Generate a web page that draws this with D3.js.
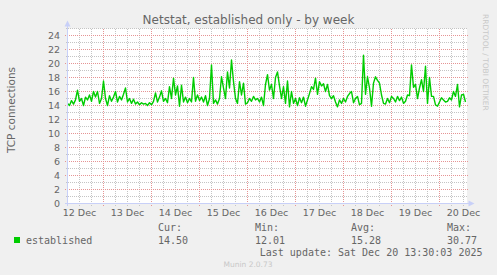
<!DOCTYPE html>
<html><head><meta charset="utf-8">
<script src="https://cdn.jsdelivr.net/npm/d3@7"></script>
<style>body{margin:0;background:#F0F0F0;overflow:hidden}</style>
</head><body>
<script>
// ---- data ----
const chartTitle = "Netstat, established only - by week";
const yAxisLabel = "TCP connections";
const seriesName = "established";
const startTime = new Date(2025, 11, 12, 6, 0);
const endTime = new Date(2025, 11, 20, 14, 0);
const sampleHours = 1; // one sample per hour
const established = [
14.3,14.0,14.7,14.2,14.8,16.2,14.6,15.0,14.0,15.2,
14.8,15.5,14.6,16.0,15.2,16.0,14.3,15.0,17.5,15.0,
14.0,15.4,14.6,15.2,16.0,14.5,15.3,14.8,15.6,16.5,
14.5,15.0,14.3,14.9,14.2,14.5,14.1,14.4,14.2,14.3,
14.0,14.4,14.1,14.6,15.8,14.5,15.2,16.1,14.6,15.0,
14.4,16.7,15.0,17.9,15.5,16.8,13.9,16.9,14.5,15.2,
14.4,15.0,14.5,18.0,14.6,15.5,14.7,15.2,14.5,15.4,
14.0,15.0,19.8,14.3,14.8,14.2,15.0,18.1,16.5,15.0,
18.8,16.5,20.5,17.4,15.0,14.3,17.4,15.5,17.2,14.2,
14.4,15.0,14.6,15.3,14.8,15.0,14.5,15.2,14.0,17.0,
18.4,16.2,17.0,15.0,18.0,18.8,16.8,15.0,16.7,14.3,
17.5,13.8,16.0,14.3,15.0,14.0,15.1,14.4,15.2,13.9,
14.8,15.7,16.7,16.3,17.9,15.6,17.4,16.8,17.1,16.0,
17.0,15.4,15.0,15.4,14.5,13.8,14.8,14.3,15.0,14.5,
15.3,15.7,16.0,14.4,15.0,15.3,14.1,14.3,21.2,15.6,
18.1,16.5,13.9,17.2,18.1,17.6,17.2,15.5,14.3,14.2,
15.0,14.4,15.3,15.0,14.5,15.3,14.7,15.2,14.3,14.6,
15.5,15.4,19.8,16.6,17.0,15.0,16.5,17.7,16.0,19.6,
14.3,18.0,15.3,15.3,14.1,13.9,14.5,15.1,14.8,14.5,
14.6,15.1,14.8,16.0,15.3,17.0,13.8,15.5,15.6,14.5
];
const yMajorTicks = [0,2,4,6,8,10,12,14,16,18,20,22,24];
const yMinorTicks = [1,3,5,7,9,11,13,15,17,19,21,23,25];
const dayLabels = ["12 Dec","13 Dec","14 Dec","15 Dec","16 Dec","17 Dec","18 Dec","19 Dec","20 Dec"];
const statLabels = ["Cur:","Min:","Avg:","Max:"];
const statValues = ["14.50","12.01","15.28","30.77"];
const lastUpdate = "Last update: Sat Dec 20 13:30:03 2025";
const footer = "Munin 2.0.73";
const watermark = "RRDTOOL / TOBI OETIKER";

// ---- layout ----
const W = 497, H = 275;
const L = 67.5, R = 467.5, T = 28.5, B = 203.5;
const fontColor = "#666666", gridColor = "#C4C4C4", mgridColor = "#E59494", axisColor = "#C8D0F8";
const lineColor = "#00CC00";

const svg = d3.select("body").append("svg").attr("width", W).attr("height", H)
  .style("font-family", "'DejaVu Sans', sans-serif");
svg.append("rect").attr("width", W).attr("height", H).attr("fill", "#F0F0F0");

const x = d3.scaleTime().domain([startTime, endTime]).range([L, R]);
const y = d3.scaleLinear().domain([0, 25]).range([B, T]);

svg.append("rect").attr("x", L).attr("y", T).attr("width", R - L - 0.5).attr("height", B - T).attr("fill", "#FFFFFF");

const grid = svg.append("g").attr("shape-rendering", "crispEdges");
grid.selectAll(".hmin").data(yMinorTicks).join("line")
  .attr("x1", L - 2).attr("x2", R).attr("y1", d => y(d)).attr("y2", d => y(d))
  .attr("stroke", gridColor).attr("stroke-dasharray", "1,1");
const sixHours = d3.timeHour.every(6).range(startTime, endTime).filter(d => d.getHours() !== 0);
grid.selectAll(".vmin").data(sixHours).join("line")
  .attr("x1", d => x(d)).attr("x2", d => x(d)).attr("y1", T).attr("y2", B + 2)
  .attr("stroke", gridColor).attr("stroke-dasharray", "1,1");
grid.selectAll(".hmaj").data(yMajorTicks).join("line")
  .attr("x1", L - 3).attr("x2", R).attr("y1", d => y(d)).attr("y2", d => y(d))
  .attr("stroke", mgridColor).attr("stroke-dasharray", "1,1");
const days = d3.timeDay.range(d3.timeDay.ceil(startTime), endTime);
grid.selectAll(".vmaj").data(days).join("line")
  .attr("x1", d => x(d)).attr("x2", d => x(d)).attr("y1", T).attr("y2", B + 3)
  .attr("stroke", mgridColor).attr("stroke-dasharray", "1,1");

// data line
const pts = established.map((v, i) => [new Date(+startTime + i * sampleHours * 3600e3), v]);
const line = d3.line().x(d => x(d[0])).y(d => y(d[1]));
svg.append("path").datum(pts).attr("d", line).attr("fill", "none")
  .attr("stroke", lineColor).attr("stroke-width", 1.4).attr("stroke-linejoin", "round");

// axes
const ax = svg.append("g");
ax.append("line").attr("x1", L).attr("x2", L).attr("y1", B + 2).attr("y2", T - 4)
  .attr("stroke", axisColor).attr("shape-rendering", "crispEdges");
ax.append("path").attr("d", `M${L - 3},${T - 2} L${L},${T - 8} L${L + 3},${T - 2} Z`).attr("fill", axisColor);
ax.append("line").attr("x1", L - 3).attr("x2", R + 3).attr("y1", B).attr("y2", B)
  .attr("stroke", axisColor).attr("shape-rendering", "crispEdges");
ax.append("path").attr("d", `M${R + 1},${B - 3} L${R + 7},${B} L${R + 1},${B + 3} Z`).attr("fill", axisColor);

// y tick labels
svg.selectAll(".ytl").data(yMajorTicks).join("text")
  .attr("x", 60).attr("y", d => y(d)).attr("dy", "0.35em").attr("text-anchor", "end")
  .attr("font-size", 9.5).attr("fill", fontColor).text(d => d);
const noons = dayLabels.map((lab, i) => new Date(2025, 11, 12 + i, 12, 0));
svg.selectAll(".xtl").data(dayLabels).join("text")
  .attr("x", (d, i) => x(noons[i])).attr("y", 216).attr("text-anchor", "middle")
  .attr("font-size", 9.5).attr("fill", fontColor).text(d => d);

svg.append("text").attr("x", 248.5).attr("y", 24).attr("text-anchor", "middle")
  .attr("font-size", 12).attr("fill", fontColor).text(chartTitle);
svg.append("text").attr("transform", "translate(15,110) rotate(-90)").attr("text-anchor", "middle")
  .attr("font-size", 10.5).attr("fill", fontColor).text(yAxisLabel);
svg.append("text").attr("transform", "translate(483,14) rotate(90)").attr("text-anchor", "start")
  .attr("font-size", 7.5).attr("fill", "#C8C8C8").text(watermark);

// legend
const mono = "'DejaVu Sans Mono', monospace";
const statX = [158, 255, 351, 447];
svg.selectAll(".sl").data(statLabels).join("text")
  .attr("x", (d, i) => statX[i]).attr("y", 231).attr("font-family", mono).attr("font-size", 10)
  .attr("fill", fontColor).text(d => d);
svg.selectAll(".sv").data(statValues).join("text")
  .attr("x", (d, i) => statX[i]).attr("y", 243.5).attr("font-family", mono).attr("font-size", 10)
  .attr("fill", fontColor).text(d => d);
svg.append("rect").attr("x", 14).attr("y", 237).attr("width", 6).attr("height", 6).attr("fill", lineColor);
svg.append("text").attr("x", 26).attr("y", 243.5).attr("font-family", mono).attr("font-size", 10)
  .attr("fill", fontColor).text(seriesName);
svg.append("text").attr("x", 482.5).attr("y", 255.5).attr("text-anchor", "end").attr("font-family", mono)
  .attr("font-size", 10).attr("fill", fontColor).text(lastUpdate);
svg.append("text").attr("x", 248).attr("y", 266.5).attr("text-anchor", "middle")
  .attr("font-size", 7.5).attr("fill", "#C8C8C8").text(footer);
</script>
</body></html>
